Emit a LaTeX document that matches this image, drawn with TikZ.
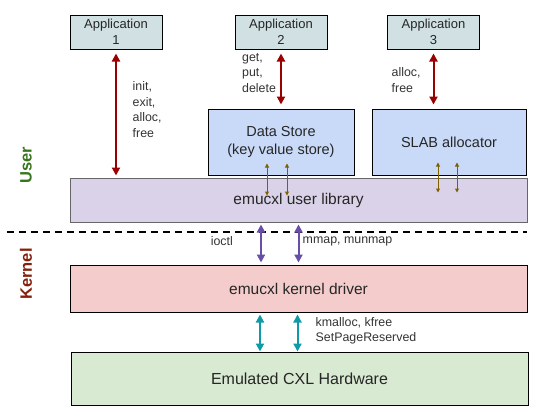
\documentclass[tikz,border=0pt]{standalone}
\usepackage{fontspec}
\setmainfont{Liberation Sans}
\usetikzlibrary{arrows.meta}
\definecolor{appfill}{HTML}{D0E0E3}
\definecolor{storefill}{HTML}{C9DAF8}
\definecolor{libfill}{HTML}{D9D2E9}
\definecolor{driverfill}{HTML}{F4CCCC}
\definecolor{hwfill}{HTML}{D9EAD3}
\definecolor{appred}{HTML}{990000}
\definecolor{calbrown}{HTML}{7F6000}
\definecolor{syspurple}{HTML}{674EA7}
\definecolor{memteal}{HTML}{0E9AA7}
\definecolor{usergreen}{HTML}{38761D}
\definecolor{kernelred}{HTML}{85200C}
\begin{document}
\begin{tikzpicture}[x=1pt,y=-1pt,
	box_node/.style={draw,line width=1pt,inner sep=0pt,align=center,text=black!85},
	app_node/.style={box_node,fill=appfill,minimum width=92pt,minimum height=34pt,font=\fontsize{13}{15.5}\selectfont},
	store_node/.style={box_node,fill=storefill,minimum height=66pt,font=\fontsize{14.5}{18}\selectfont},
	layer_node/.style={box_node,minimum width=457pt,font=\fontsize{15.5}{18}\selectfont},
	note_node/.style={inner sep=0pt,align=left,text=black!80,font=\fontsize{12.4}{15.4}\selectfont},
	side_node/.style={inner sep=0pt,rotate=90,font=\fontsize{16.5}{18}\selectfont\bfseries},
	red_arrow/.style={draw=appred,line width=2pt,{Triangle[length=8pt,width=8pt]}-{Triangle[length=8pt,width=8pt]}},
	brown_arrow/.style={draw=calbrown,line width=1pt,{Triangle[length=4pt,width=4pt]}-{Triangle[length=4pt,width=4pt]}},
	purple_arrow/.style={draw=syspurple,line width=2pt,{Triangle[length=8pt,width=8pt]}-{Triangle[length=8pt,width=8pt]}},
	teal_arrow/.style={draw=memteal,line width=2pt,{Triangle[length=8pt,width=8pt]}-{Triangle[length=8pt,width=8pt]}}]

		\useasboundingbox (0,0) rectangle (544,415);

		\node[app_node] (app1) at (116,32) {Application\\1};
		\node[app_node] (app2) at (281,32) {Application\\2};
		\node[app_node] (app3) at (433.5,32) {Application\\3};
		\node[store_node,minimum width=146pt] (store) at (281,142) {Data Store\\(key value store)};
		\node[store_node,minimum width=154pt] (slab) at (449,142) {SLAB allocator};
		\node[layer_node,draw=black!60,fill=libfill,minimum height=44pt] (lib) at (298.5,200) {emucxl user library};
		\node[layer_node,fill=driverfill,minimum height=47pt] (driver) at (298.5,288.5) {emucxl kernel driver};
		\node[layer_node,fill=hwfill,minimum height=53pt,font=\fontsize{16}{18}\selectfont] (hw) at (299.5,378.5) {Emulated CXL Hardware};

		\node[side_node,text=usergreen] (user) at (26,165) {User};
		\node[side_node,text=kernelred] (kernel) at (26,274) {Kernel};

		% user / kernel boundary
		\draw[line width=1.5pt,dash pattern=on 7pt off 5pt] (7,232) -- (527,232);

		\draw[red_arrow,shorten <=4pt,shorten >=2pt] (app1.south) -- (app1.south |- lib.north);
		\draw[red_arrow,shorten <=4pt,shorten >=4pt] (app2.south) -- (app2.south |- store.north);
		\draw[red_arrow,shorten <=4pt,shorten >=4pt] (app3.south) -- (app3.south |- slab.north);

		\draw[brown_arrow] ([xshift=-14pt,yshift=12pt]store.south) -- ([xshift=-14pt,yshift=-18pt]store.south |- lib.north);
		\draw[brown_arrow] ([xshift=6pt,yshift=12pt]store.south) -- ([xshift=6pt,yshift=-18pt]store.south |- lib.north);
		\draw[brown_arrow] ([xshift=-11pt,yshift=13pt]slab.south) -- ([xshift=-11pt,yshift=-15pt]slab.south |- lib.north);
		\draw[brown_arrow] ([xshift=8pt,yshift=13pt]slab.south) -- ([xshift=8pt,yshift=-15pt]slab.south |- lib.north);

		\draw[purple_arrow,shorten <=2pt,shorten >=2pt] ([xshift=-37.5pt]lib.south) -- ([xshift=-37.5pt]driver.north);
		\draw[purple_arrow,shorten <=2pt,shorten >=2pt] (lib.south) -- (driver.north);

		\draw[teal_arrow,shorten <=2pt] ([xshift=-38.5pt]driver.south) -- ([xshift=-39.5pt]hw.north);
		\draw[teal_arrow,shorten <=2pt] ([xshift=-1pt]driver.south) -- ([xshift=-2pt]hw.north);

		\node[note_node,anchor=west] (calls1) at (132.5,109.5) {init,\\exit,\\alloc,\\free};
		\node[note_node,anchor=west] (calls2) at (242,73) {get,\\put,\\delete};
		\node[note_node,anchor=west] (calls3) at (391.5,80) {alloc,\\free};
		\node[note_node,anchor=east] (ioctl) at (233,241.5) {ioctl};
		\node[note_node,anchor=west] (mmap) at (302.5,241.5) {mmap, munmap};
		\node[note_node,anchor=west] (kmem) at (315.5,330.5) {kmalloc, kfree\\SetPageReserved};
\end{tikzpicture}
\end{document}
